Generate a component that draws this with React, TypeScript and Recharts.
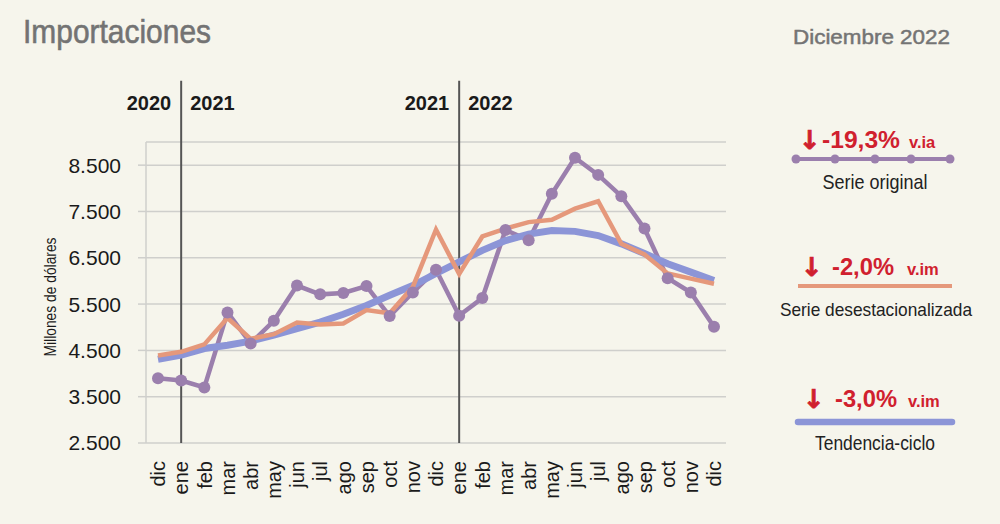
import React from "react";
import { LineChart, Line, XAxis, YAxis, CartesianGrid, ReferenceLine } from "recharts";

const periods = [
  "2020-12",
  "2021-01", "2021-02", "2021-03", "2021-04", "2021-05", "2021-06",
  "2021-07", "2021-08", "2021-09", "2021-10", "2021-11", "2021-12",
  "2022-01", "2022-02", "2022-03", "2022-04", "2022-05", "2022-06",
  "2022-07", "2022-08", "2022-09", "2022-10", "2022-11", "2022-12",
];
const monthLabels = [
  "dic",
  "ene", "feb", "mar", "abr", "may", "jun", "jul", "ago", "sep", "oct", "nov", "dic",
  "ene", "feb", "mar", "abr", "may", "jun", "jul", "ago", "sep", "oct", "nov", "dic",
];
const serieOriginal = [
  3900,
  3850, 3700, 5320, 4650, 5140, 5900, 5710, 5740, 5890, 5240, 5750, 6240,
  5250, 5630, 7100, 6880, 7880, 8660, 8290, 7830, 7130, 6060, 5750, 5010,
];
const serieDesest = [
  4390,
  4470, 4630, 5200, 4750, 4850, 5100, 5060, 5080, 5370, 5300, 5870, 7110,
  6150, 6960, 7130, 7270, 7320, 7560, 7720, 6800, 6570, 6160, 6050, 5940,
];
const tendenciaCiclo = [
  4310,
  4400, 4540, 4610, 4700, 4830, 4970, 5110, 5280, 5470, 5690, 5900, 6160,
  6410, 6660, 6870, 7010, 7090, 7070, 6980, 6800, 6590, 6370, 6190, 6010,
];
const yTicks = [2500, 3500, 4500, 5500, 6500, 7500, 8500];
const yearBreaks = [
  { at: "2021-01", before: "2020", after: "2021" },
  { at: "2022-01", before: "2021", after: "2022" },
];
const legendNames = ["Serie original", "Serie desestacionalizada", "Tendencia-ciclo"];
const legendChanges = ["-19,3%", "-2,0%", "-3,0%"];
const legendUnits = ["v.ia", "v.im", "v.im"];

const data = periods.map((p, i) => ({
  period: p,
  label: monthLabels[i],
  original: serieOriginal[i],
  desest: serieDesest[i],
  tendencia: tendenciaCiclo[i],
}));

const BG = "#f6f5ec";
const PURPLE = "#9b7fad";
const ORANGE = "#e5987b";
const BLUE = "#8c95d7";
const RED = "#d0202e";
const GRID = "#cfcfcc";
const FONT = "'Liberation Sans', Arial, sans-serif";

const XTick = (props: any) => {
  const { x, y, payload } = props;
  const idx = periods.indexOf(payload.value);
  return (
    <text
      x={x}
      y={y}
      transform={`rotate(-90 ${x} ${y})`}
      textAnchor="end"
      dy="0.36em"
      fontSize={20}
      fontFamily={FONT}
      fill="#1a1a1a"
    >
      {monthLabels[idx]}
    </text>
  );
};

const YearLabel = (before: string, after: string) => (props: any) => {
  const vb = props.viewBox || {};
  const x = vb.x;
  const top = vb.y;
  return (
    <g>
      <text x={x - 10} y={top + 29} textAnchor="end" fontSize={20} fontWeight="bold" fontFamily={FONT} fill="#1a1a1a">
        {before}
      </text>
      <text x={x + 9} y={top + 29} textAnchor="start" fontSize={20} fontWeight="bold" fontFamily={FONT} fill="#1a1a1a">
        {after}
      </text>
    </g>
  );
};

const legendY = [148, 275, 407];
const lineY = [159, 286, 422];
const nameY = [189, 316, 450];
const arrowX = [810, 812, 814];
const changeX = [822, 832, 835];
const changeW = [78, 62, 62];
const unitX = [909, 907, 908];
const nameX = [875, 876, 875];
const nameW = [105, 192, 120];
const nameSize = [21, 18.5, 21];

const Overlay = () => (
  <svg width={1000} height={524} style={{ position: "absolute", left: 0, top: 0, pointerEvents: "none" }}>
    <text
      x={23}
      y={43}
      fontSize={34}
      fontFamily={FONT}
      fill="#737373"
      stroke="#737373"
      strokeWidth={0.6}
      textLength={188}
      lengthAdjust="spacingAndGlyphs"
    >
      Importaciones
    </text>
    <text
      x={793}
      y={44}
      fontSize={21}
      fontFamily={FONT}
      fill="#747474"
      stroke="#747474"
      strokeWidth={0.5}
      textLength={157}
      lengthAdjust="spacingAndGlyphs"
    >
      Diciembre 2022
    </text>
    <text
      x={50}
      y={297}
      transform="rotate(-90 50 297)"
      textAnchor="middle"
      dy="0.35em"
      fontSize={16}
      fontFamily={FONT}
      fill="#1a1a1a"
      textLength={119}
      lengthAdjust="spacingAndGlyphs"
    >
      Millones de dólares
    </text>
    {legendNames.map((name, i) => (
      <g key={name}>
        <text
          x={arrowX[i]}
          y={legendY[i] + 1}
          textAnchor="middle"
          fontSize={26}
          fontWeight="bold"
          fontFamily="'DejaVu Sans', sans-serif"
          fill={RED}
          stroke={RED}
          strokeWidth={0.8}
        >
          ↓
        </text>
        <text
          x={changeX[i]}
          y={legendY[i]}
          fontSize={23}
          fontWeight="bold"
          fontFamily={FONT}
          fill={RED}
          textLength={changeW[i]}
          lengthAdjust="spacingAndGlyphs"
        >
          {legendChanges[i]}
        </text>
        <text x={unitX[i]} y={legendY[i]} fontSize={16.5} fontWeight="bold" fontFamily={FONT} fill={RED}>
          {legendUnits[i]}
        </text>
        <text
          x={nameX[i]}
          y={nameY[i]}
          textAnchor="middle"
          fontSize={nameSize[i]}
          fontFamily={FONT}
          fill="#222"
          textLength={nameW[i]}
          lengthAdjust="spacingAndGlyphs"
        >
          {name}
        </text>
      </g>
    ))}
    <line x1={796} x2={950} y1={lineY[0]} y2={lineY[0]} stroke={PURPLE} strokeWidth={4} />
    {[796, 835, 875, 911, 950].map((cx) => (
      <circle key={cx} cx={cx} cy={lineY[0]} r={4.5} fill={PURPLE} />
    ))}
    <line x1={798} x2={952} y1={lineY[1]} y2={lineY[1]} stroke={ORANGE} strokeWidth={4} />
    <line x1={798} x2={952} y1={lineY[2]} y2={lineY[2]} stroke={BLUE} strokeWidth={6.5} strokeLinecap="round" />
  </svg>
);

export default function App() {
  return (
    <div style={{ position: "absolute", left: 0, top: 0, width: 1000, height: 524, background: BG, overflow: "hidden" }}>
      <LineChart width={1000} height={524} data={data} margin={{ top: 142, right: 274, bottom: 21, left: 0 }}>
        <CartesianGrid vertical={false} stroke={GRID} strokeWidth={1.5} />
        <XAxis
          dataKey="period"
          interval={0}
          axisLine={false}
          tickLine={false}
          tickSize={0}
          tickMargin={18}
          height={60}
          padding={{ left: 12, right: 12 }}
          tick={<XTick />}
        />
        <YAxis
          domain={[2500, 9000]}
          ticks={yTicks}
          width={146}
          tickSize={8}
          tickMargin={17}
          axisLine={{ stroke: GRID, strokeWidth: 1.5 }}
          tickLine={{ stroke: GRID, strokeWidth: 1.5 }}
          tick={{ fontSize: 21, fontFamily: FONT, fill: "#1a1a1a" }}
          tickFormatter={(v: number) => v.toLocaleString("de-DE")}
        />
        {yearBreaks.map((b) => (
          <ReferenceLine
            key={b.at}
            segment={[{ x: b.at, y: 2500 }, { x: b.at, y: 10320 }]}
            ifOverflow="visible"
            stroke="#555"
            strokeWidth={2}
            label={YearLabel(b.before, b.after)}
          />
        ))}
        <Line
          dataKey="original"
          stroke={PURPLE}
          strokeWidth={4.5}
          dot={{ r: 6, fill: PURPLE, stroke: "none" }}
          activeDot={false}
          isAnimationActive={false}
        />
        <Line dataKey="tendencia" stroke={BLUE} strokeWidth={7} dot={false} activeDot={false} isAnimationActive={false} />
        <Line dataKey="desest" stroke={ORANGE} strokeWidth={4.5} dot={false} activeDot={false} isAnimationActive={false} />
      </LineChart>
      <Overlay />
    </div>
  );
}
